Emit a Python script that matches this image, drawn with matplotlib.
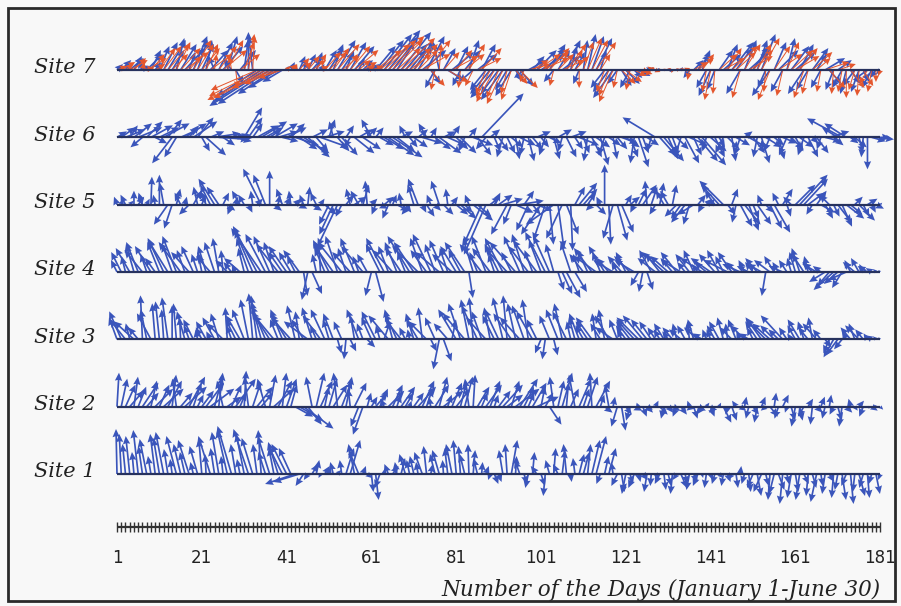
import matplotlib
matplotlib.use("Agg")
import matplotlib.pyplot as plt
from matplotlib.patches import Rectangle

days = list(range(1, 182))
tick_days = [1, 21, 41, 61, 81, 101, 121, 141, 161, 181]
site_names = ["Site 1", "Site 2", "Site 3", "Site 4", "Site 5", "Site 6", "Site 7"]
xlabel = "Number of the Days (January 1-June 30)"

# daily vectors, screen units (u to the right, v upward)
s1_u = [-1,-2,-3,-4,-2,-5,-4,-7,-3,-5, -6,-8,-4,-2,-10,-7,-5,-11,-3,-8,
        -3,-1,-12,-4,-7,-2,-10,-14,-5,-3, -8,-15,-11,-4,-3,-7,-12,-5,-10,-14,
        -15,-12,-30,-26,-8,-4,6,3,-2,5, 2,-3,4,-2,8,10,-6,-10,3,5,
        2,3,-5,1,-4,6,-2,4,-6,-3, -4,-2,-8,-3,2,-5,-7,-1,-3,-6,
        -3,-2,-5,-1,2,-4,1,3,-2,4, 3,-4,-2,6,1,-5,3,-3,2,-6,
        4,-2,-4,2,-5,3,-3,1,-2,5, 6,3,8,10,-4,4,7,-2,-6,3,
        -4,3,-6,2,5,-3,-1,4,-5,2, 3,-2,-4,6,2,-3,4,-5,1,-2,
        2,-3,4,-2,3,-4,2,1,-3,2, -6,4,-8,3,-2,-5,6,-3,2,-4,
        3,-4,5,-2,4,-6,2,-3,5,-2, -3,4,-5,3,-2,6,-4,2,-3,4,-2]
s1_v = [45,40,30,38,22,44,28,35,18,40, 36,42,25,15,38,30,22,34,12,28,
        35,20,38,26,42,18,44,48,30,15, 40,45,36,30,44,22,38,26,32,28,
        30,26,-10,-8,-12,-6,10,14,-4,8, 6,12,4,14,26,34,30,24,8,-4,
        -18,-26,-14,6,10,8,12,16,20,14, 18,12,22,28,10,20,24,14,26,30,
        34,28,20,30,24,16,12,8,-6,-10, -8,24,30,34,18,14,-10,-14,22,8,
        -12,-22,14,26,10,24,30,-8,16,20, 22,30,34,38,-10,18,26,12,-12,-18,
        -20,-10,-14,-8,-6,-18,-12,-4,-10,-16, -12,-20,-6,-14,-10,-16,-8,-12,-4,-14,
        -6,-10,-4,-12,-8,-6,-14,8,-10,-18, -14,-22,-18,-12,-26,-20,-16,-30,-10,-24,
        -18,-26,-10,-22,-14,-28,-12,-20,-8,-24, -16,-26,-12,-30,-18,-22,-14,-24,-10,-20,-6]

s2_u = [2,6,10,14,4,8,16,12,6,18, 10,20,14,4,-4,12,22,16,8,6,
        12,18,24,8,4,-6,14,10,20,6, 2,-4,8,16,12,-8,6,20,14,4,
        10,6,18,24,30,14,-6,8,12,4, 8,14,-4,10,6,-2,12,-8,-10,4,
        6,12,8,-4,16,10,4,14,8,2, 10,18,12,6,-2,14,8,20,4,10,
        14,6,8,-4,2,12,6,16,10,4, 12,20,16,8,24,18,10,6,14,22,
        4,8,12,-4,6,10,2,8,-6,12, 6,10,-2,14,4,8,-4,2,-6,4,
        6,-4,8,-2,4,6,-6,3,8,-3, 5,8,-4,6,10,-2,4,8,-6,3,
        4,-6,2,8,-2,5,-4,6,2,-3, 6,-3,4,-5,8,2,-4,6,-2,4,
        -4,3,-6,5,-2,6,4,-3,2,-4, 4,-3,6,-2,3,5,-4,2,6,-2,3]
s2_v = [34,28,22,16,30,20,24,14,26,18, 22,18,26,32,28,14,20,30,24,12,
        16,24,18,30,34,26,10,22,28,14, 36,30,24,20,14,28,32,18,26,34,
        28,22,-10,-14,-22,-18,30,34,26,20, 28,22,34,26,30,18,24,-20,-28,14,
        10,14,18,8,16,22,12,20,14,6, 14,20,26,18,10,22,30,16,12,24,
        18,24,30,28,32,20,14,22,26,12, 16,22,12,26,18,28,20,14,24,10,
        20,14,-18,30,26,34,24,18,32,28, 18,30,34,26,12,-6,22,10,-20,-24,
        -8,-14,-4,4,-10,-6,-4,6,-8,-12, -6,-4,-10,-8,-2,6,-12,-4,-8,4,
        -10,-6,4,-16,-8,-14,6,-4,10,-12, -8,-16,10,-4,-10,14,-12,12,-6,-14,
        -20,-14,-10,8,-18,-6,10,-12,12,-8, -14,-20,-6,8,-4,6,-10,-2,-4,2,-3]

s3_u = [-8,-12,-16,-4,-20,-10,-2,-6,-14,-3, -4,-2,-6,0,-3,-1,-8,-5,-10,-2,
        -6,-10,-4,-12,-8,-16,-2,-5,-10,-14, -12,-8,-4,-6,-10,-14,-18,-20,-8,-12,
        -16,-20,-8,-4,-12,-24,-10,-6,-18,-14, -6,-10,4,-8,-2,6,-4,-12,-6,8,
        -10,-14,-4,6,-20,-8,-12,-16,-6,-2, -8,-12,-4,-18,6,-10,-6,8,-14,4,
        -18,-12,-22,-8,-4,-16,-10,-20,-6,-12, -14,-10,-4,-18,-8,-20,-12,-6,-16,-10,
        -6,-3,-10,4,-12,-8,-14,-4,-6,-10, -8,-12,-16,-4,-10,-6,-14,-18,-8,-4,
        -10,-14,-18,-22,-20,-16,-12,-8,-6,-10, -6,-10,-4,-12,-8,-2,-6,-14,-10,-4,
        -4,-8,-10,-6,-2,-12,-8,-4,-14,-10, -6,-12,-16,-20,-18,-14,-10,-22,-8,-4,
        -8,-12,-6,-10,-4,-14,-8,6,-6,-10, -12,-8,-4,-10,-6,-14,-8,-4,-6,-3,-2]
s3_v = [22,28,20,16,18,12,44,30,26,36, 38,30,42,34,36,22,28,14,20,10,
        12,18,8,22,26,16,32,14,20,24, 30,40,46,44,38,34,28,24,20,30,
        26,22,34,28,20,18,32,14,24,30, 20,26,-14,18,-20,-12,24,30,16,-8,
        22,28,14,18,24,30,26,20,12,10, 26,20,32,18,-12,22,-30,-22,16,20,
        30,36,26,40,42,34,28,22,32,24, 30,42,44,26,36,22,34,40,28,20,
        -14,-20,24,-16,30,36,28,18,22,26, 14,18,22,26,16,30,24,12,20,10,
        14,18,20,22,24,20,18,12,10,16, 8,12,16,10,14,18,20,12,6,10,
        10,14,18,22,16,12,20,8,14,6, 12,18,22,20,16,14,10,24,12,6,
        14,20,18,12,22,16,10,-8,-14,-18, -16,-10,8,12,16,14,10,6,4,3,2]

s4_u = [-6,-10,-4,-14,-8,-12,-18,-6,-16,-10, -12,-16,-20,-10,-14,-22,-8,-18,-12,-6,
        -4,-8,-14,-10,-6,-2,-12,-8,-4,-16, -6,-12,-18,-24,-30,-20,-16,-10,-22,-14,
        -18,-12,-8,-16,4,-6,10,-4,-2,-10, -16,-20,-12,-24,-8,-18,-14,-6,-22,-10,
        -6,8,-14,-18,-10,-20,-12,-16,-8,-22, -20,-26,-12,-16,-18,-10,-24,-14,-8,-20,
        -16,-12,-20,4,-10,-8,-22,-14,-18,-6, -14,-18,-22,-10,-26,-16,-12,-20,-8,-24,
        -12,-20,-16,-8,6,10,14,-10,12,-6, -14,-10,-18,-22,-8,-16,-12,-20,-6,-14,
        -10,-16,-20,-8,-4,6,-12,-18,-14,-22, -18,-12,-16,-20,-8,-14,-10,-6,-22,-12,
        -20,-16,-12,-8,-24,-14,-10,-18,-6,-12, -8,-12,-14,-4,-16,-10,-6,-14,-8,-4,
        -6,-8,-12,-4,-10,-14,-8,-16,-12,-20, -14,-10,-18,-6,-12,-8,-4,-10,-6,-3,-2]
s4_v = [12,20,16,24,28,30,22,18,26,14, 30,34,32,28,36,30,22,20,26,18,
        20,26,16,30,34,22,12,10,8,14, 24,34,42,46,44,38,36,30,28,20,
        26,20,16,22,-24,-28,-22,18,30,24, 32,28,36,30,24,20,34,16,26,18,
        -24,-30,28,34,26,22,30,24,20,36, 30,26,34,22,38,28,20,32,24,18,
        26,22,30,-26,34,20,28,36,24,18, 28,34,24,20,30,36,38,26,22,32,
        32,40,36,28,-18,-22,-26,30,-20,18, 18,22,24,16,20,26,14,12,10,16,
        20,16,12,-14,-20,-18,22,14,18,20, 16,14,20,12,10,18,22,8,14,10,
        14,18,22,16,12,20,10,8,12,6, 10,14,8,-24,12,16,10,6,12,14,
        20,24,18,16,10,8,6,-10,-14,-18, -12,-16,-8,12,10,14,8,6,4,3,2]

s5_u = [-3,2,-5,4,0,6,-4,3,1,-2, 0,-4,-14,-8,4,-6,2,-10,8,-4,
        4,-6,-10,-16,-12,6,8,-4,2,-8, -6,4,-2,6,-18,-12,0,8,2,-6,
        4,-2,6,8,-4,2,10,-6,4,12, -10,-14,-20,-6,8,-4,12,-8,6,-2,
        6,-4,8,10,-6,4,12,-2,6,-8, -6,-10,4,8,-4,6,-8,10,-2,6,
        12,16,8,-4,20,14,-18,-22,10,6, 14,20,-16,-8,18,24,10,-12,8,16,
        -20,-12,4,-28,6,-16,12,2,10,18, 14,8,-6,10,-4,0,2,-10,10,12,
        6,10,-4,8,14,-2,6,-6,4,-8, -8,4,-12,-10,-14,-6,-16,8,-4,6,
        4,-10,-18,-24,8,6,-4,12,16,10, 6,14,-4,8,12,16,-6,10,4,-8,
        20,28,24,16,-6,10,14,8,-10,6, 14,10,18,12,8,16,6,10,4,8,2]
s5_v = [8,6,10,4,14,8,12,6,28,10, 30,22,-20,-24,16,12,8,-10,14,18,
        10,14,20,26,18,12,-6,-10,8,14, 10,-8,14,6,36,30,34,-6,10,16,
        8,14,6,-4,10,18,-6,12,6,-10, -20,-30,-42,-12,10,16,8,14,20,24,
        6,-10,-4,8,-14,10,-6,12,-8,-10, 20,26,-8,-12,10,-6,24,-10,16,8,
        -10,-14,-8,10,-16,-12,-40,-50,8,12, 10,6,-30,-20,-8,4,14,-26,-10,-6,
        -30,-36,-40,-20,-44,-34,-30,-46,18,22, 16,12,-6,-10,8,40,-40,-34,-36,-28,
        10,8,-8,16,20,24,18,-10,22,14, 14,20,-12,-14,-18,-20,-10,10,-8,6,
        6,14,20,24,-10,16,-18,-22,-20,-26, -14,-20,10,-8,-24,-28,12,16,-12,8,
        20,30,26,12,-10,14,-8,-14,10,-12, -18,-22,-14,-10,8,-16,-12,6,-8,-4,2]

s6_u = [10,14,20,8,18,24,-12,16,22,12, 20,26,14,-20,-12,18,22,10,24,16,
        8,20,14,26,30,12,18,22,16,10, 18,14,10,22,26,18,12,24,20,16,
        20,14,24,18,26,22,16,12,28,20, 6,-4,12,16,8,-6,20,14,18,10,
        -10,8,14,20,26,30,18,12,-6,8, 14,10,20,-8,6,16,22,12,18,8,
        12,16,-6,8,20,14,42,-10,10,6, 10,-6,8,12,4,16,-4,6,10,14,
        8,-6,12,6,14,-4,10,16,8,20, 6,-4,10,14,8,-6,12,4,10,16,
        14,8,-4,10,6,12,-4,-33,16,20, 10,6,12,-6,14,18,8,20,24,-4,
        16,10,6,-8,12,4,14,-6,8,18, 12,-4,8,16,-6,10,6,14,-8,12,
        8,14,-6,10,6,12,-4,16,20,10, -16,-35,-22,8,12,4,-2,0,14,18,10]
s6_v = [6,10,8,12,14,10,-10,16,12,-6, 10,14,18,-26,-20,8,14,12,16,20,
        -14,-18,6,4,-2,-8,2,0,-4,3, 30,20,14,12,16,10,8,14,6,-4,
        10,14,-8,-12,-16,-20,8,-14,-10,6, 18,16,-14,-18,12,-10,-16,8,-12,10,
        18,10,-8,-12,-18,-20,-14,6,12,-10, -10,8,-6,14,10,-12,-16,6,-8,12,
        -12,-16,-14,10,-8,-18,44,-12,8,-14, -14,-20,-16,-10,-22,-8,-18,-24,-12,6,
        -10,-18,-6,-22,8,-14,-20,6,-12,-8, -16,-24,-20,-10,-28,-18,-8,-22,-12,-6,
        -10,-20,-26,-30,-16,-8,-14,20,-18,-24, -22,-16,-12,-20,-26,-8,-18,-24,-28,-14,
        -14,-20,-10,-16,-12,-24,-8,-18,6,-10, -16,-20,-26,-10,-14,-8,-22,-6,-18,-12,
        -14,-10,-18,-20,-6,-16,-12,-4,6,-8, 10,19,14,-6,-10,-16,-20,-32,-4,-2,0]

s7_u = [6,10,4,14,8,12,-4,16,10,6, 10,14,18,12,8,16,20,6,14,10,
        12,6,18,-6,14,20,10,-8,8,16, 4,0,-4,-40,-48,-56,-52,-36,-30,-20,
        2,4,-2,6,4,8,10,6,4,12, 14,10,18,12,8,16,20,6,10,4,
        8,20,24,28,32,26,18,30,22,16, 20,14,24,18,10,-10,-6,12,16,22,
        12,-8,16,10,-14,20,14,-16,-20,-24, -18,-22,-12,-16,8,14,-10,18,12,20,
        24,20,16,-10,12,18,14,6,10,-6, 4,8,12,16,6,-14,-16,-20,-10,10,
        14,-10,8,12,4,6,2,4,-2,2, 2,-3,3,2,4,-6,10,12,8,-10,
        -12,-8,14,18,10,22,16,-14,12,20, 16,10,14,-8,-18,12,20,-12,8,18,
        20,14,-16,-12,16,10,-10,20,12,-8, 14,-10,-6,10,-12,-8,6,-14,-10,-6,-4]
s7_v = [6,10,8,12,14,4,10,16,20,8, 24,28,30,20,32,26,22,18,34,30,
        26,30,20,14,28,24,34,12,-14,20, 30,38,34,-26,-32,-36,-34,-24,-18,-12,
        4,8,6,14,10,16,12,18,6,20, 22,26,30,18,20,28,24,12,10,4,
        6,24,30,36,40,34,28,38,26,20, 30,24,20,34,-14,-18,28,22,-10,18,
        24,-16,20,30,-12,16,26,-20,-24,-28, -24,-30,-20,-26,-12,-16,-8,10,14,20,
        16,22,26,-12,20,14,30,24,18,-14, 30,36,34,32,20,-18,-22,-28,-14,-16,
        -14,-18,-8,-6,-4,2,3,-2,2,1, 2,-2,1,3,2,-8,10,16,20,-18,
        -26,-20,20,16,26,28,22,-24,30,18, 24,30,36,-18,-26,28,20,-22,32,24,
        18,26,-24,-20,22,16,-18,12,-14,-20, 10,-18,-24,-14,-16,-22,-12,-10,-18,-8,-4]

# second (red) series, visible mostly at site 7
s7r_u = [10,14,8,18,12,16,2,20,14,10, 16,18,22,16,14,20,24,12,18,16,
         18,12,22,2,18,24,16,-2,2,20, 10,6,2,-46,-52,-58,-56,-42,-34,-24,
         4,6,2,10,8,12,14,10,8,16, 18,16,22,18,12,20,24,12,14,8,
         12,26,30,32,36,30,24,34,26,22, 24,20,28,24,14,-4,2,16,20,26,
         16,-2,20,16,-8,24,20,-10,-14,-18, -12,-16,-6,-10,12,18,-4,22,16,24,
         28,24,20,-4,16,22,20,12,14,0, 10,14,16,20,10,-8,-10,-14,-4,14,
         16,-4,12,14,6,8,3,5,0,3, 3,-1,4,3,5,-2,14,16,12,-4,
         -6,-2,18,22,14,26,20,-8,16,24, 20,14,18,-2,-12,16,24,-6,12,22,
         24,18,-10,-6,20,14,-4,24,16,-2, 18,-4,0,14,-6,-2,10,-8,-4,0,-2]
s7r_v = [4,8,6,10,12,2,8,12,16,6, 22,24,26,16,28,22,18,14,30,26,
         22,26,16,16,24,20,30,14,-18,16, 28,36,34,-20,-26,-30,-28,-18,-14,-8,
         4,6,6,12,8,14,10,16,4,18, 18,22,26,14,16,24,20,10,8,4,
         4,20,26,30,34,30,22,32,22,16, 26,20,16,30,-16,-20,26,18,-12,14,
         20,-18,16,26,-16,12,22,-24,-28,-32, -28,-34,-24,-30,-14,-18,-12,6,10,16,
         12,18,22,-16,16,10,26,20,14,-18, 28,32,30,28,16,-22,-26,-32,-18,-14,
         -12,-20,-6,-4,-3,2,3,-2,2,1, 2,-3,1,2,2,-10,8,12,16,-22,
         -30,-24,16,12,22,24,18,-28,26,14, 20,26,32,-22,-30,24,16,-26,28,20,
         14,22,-28,-24,18,12,-22,8,-18,-24, 6,-22,-28,-18,-20,-26,-16,-14,-22,-12,-6]

blue_u = [s1_u, s2_u, s3_u, s4_u, s5_u, s6_u, s7_u]
blue_v = [s1_v, s2_v, s3_v, s4_v, s5_v, s6_v, s7_v]
for a in blue_u + blue_v + [s7r_u, s7r_v]:
    assert len(a) == 181, len(a)

BLUE = "#3a55bb"
RED = "#e4572e"
LINE = "#27325e"

fig = plt.figure(figsize=(9.01, 6.06), dpi=100, facecolor="#f8f8f8")
ax = fig.add_axes([0, 0, 1, 1])
ax.set_facecolor("#f8f8f8")
# 4.24 px per day, 67.33 px between sites
ax.set_xlim(-26.594, 185.906)
ax.set_ylim(-0.9605, 8.0399)
ax.axis("off")

qkw = dict(angles="uv", scale_units="dots", scale=1, units="dots", width=1.7,
           headwidth=4.3, headlength=4.8, headaxislength=4.3, pivot="tail")
rkw = dict(angles="uv", scale_units="dots", scale=1, units="dots", width=1.0,
           headwidth=6.5, headlength=7.0, headaxislength=6.2, pivot="tail")

ax.quiver(days, [7] * len(days), s7_u, s7_v, color=BLUE, zorder=2, **qkw)
ax.quiver(days, [7] * len(days), s7r_u, s7r_v, color=RED, zorder=3, **rkw)
for i in range(6):
    ax.quiver(days, [i + 1] * len(days), blue_u[i], blue_v[i], color=BLUE,
              zorder=3, **qkw)

ax.hlines(range(1, 8), 1, 181, color=LINE, lw=1.6, zorder=4)

for i, name in enumerate(site_names):
    ax.text(-4.0, i + 1.03, name, ha="right", va="center", fontsize=15,
            family="DejaVu Serif", style="italic", color="#222222")

# day axis with a tick for every day
y_ax = 0.213
ax.hlines(y_ax, 1, 181, color="#333333", lw=1.6)
ax.vlines(days, y_ax - 0.07, y_ax + 0.07, color="#333333", lw=1.0)
for d in tick_days:
    ax.text(d, -0.25, str(d), ha="center", va="center", fontsize=12,
            family="DejaVu Sans", color="#222222")
ax.text(181, -0.72, xlabel, ha="right", va="center", fontsize=15.5,
        family="DejaVu Serif", style="italic", color="#222222")

fig.patches.append(Rectangle((8 / 901, 1 - 601 / 606), 887 / 901, 593 / 606,
                             transform=fig.transFigure, fill=False,
                             edgecolor="#2a2a2a", lw=2))

fig.savefig("out.png", dpi=100, facecolor=fig.get_facecolor())
